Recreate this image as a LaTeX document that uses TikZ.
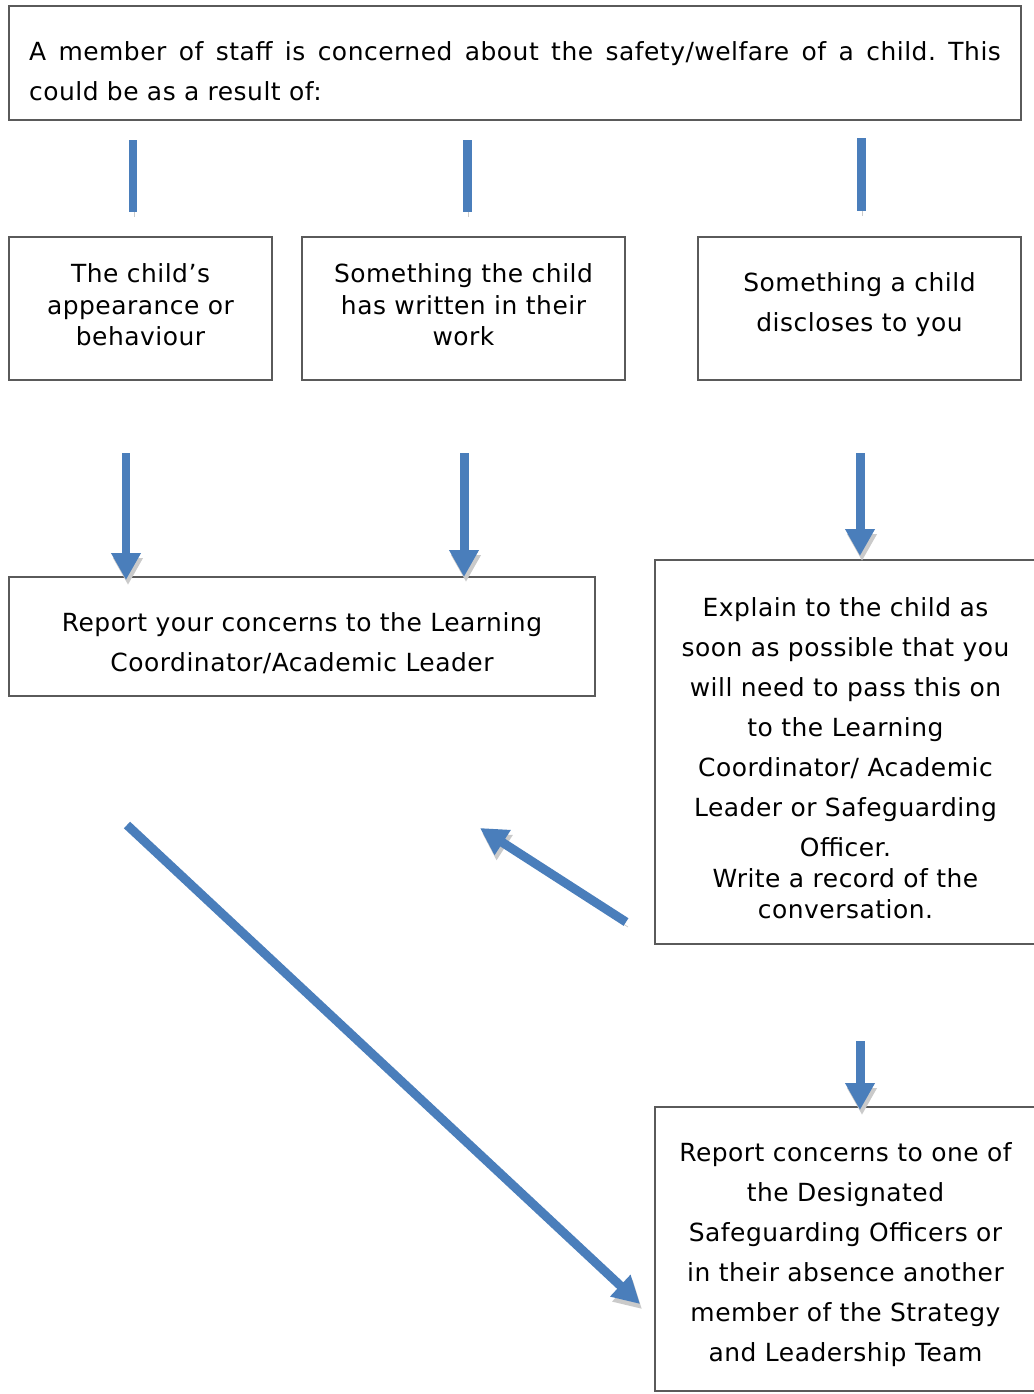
\documentclass[tikz,border=0pt]{standalone}
\usepackage{fontspec}
\setmainfont[LetterSpace=2]{DejaVu Sans}
\usetikzlibrary{arrows.meta,calc}

\definecolor{flowblue}{HTML}{4A7EBB}
\definecolor{shadowgray}{HTML}{CACACA}
\definecolor{boxline}{HTML}{5A5A5A}

\begin{document}
\begin{tikzpicture}[x=0.02cm,y=-0.02cm,
  frame/.style={draw=boxline,line width=0.75pt,inner sep=0pt},
  wide/.style={inner sep=0pt,align=center,font=\fontsize{14.2}{22.76}\selectfont},
  tight/.style={inner sep=0pt,align=center,font=\fontsize{14.2}{17.9}\selectfont},
  linkbar/.style={draw=flowblue,line width=0.18cm,
    preaction={draw=shadowgray,transform canvas={shift={(1,5)}}}},
  flowarrow/.style={draw=flowblue,line width=0.18cm,
    -{Triangle[width=0.56cm,length=0.54cm]},
    preaction={draw=shadowgray,transform canvas={shift={(2,5)}}}}]

\useasboundingbox (0,0) rectangle (1034,1394);
\fill[white] (0,0) rectangle (1034,1394);

% box frames
\node[frame,minimum width=20.24cm,minimum height=2.28cm] (topbox)     at (515,63)    {};
\node[frame,minimum width=5.26cm, minimum height=2.86cm] (appearbox)  at (140.5,308.5) {};
\node[frame,minimum width=6.46cm, minimum height=2.86cm] (writtenbox) at (463.5,308.5) {};
\node[frame,minimum width=6.46cm, minimum height=2.86cm] (disclbox)   at (859.5,308.5) {};
\node[frame,minimum width=11.72cm,minimum height=2.38cm] (reportbox)  at (302,636.5)   {};
\node[frame,minimum width=7.62cm, minimum height=7.68cm] (explainbox) at (845.5,752)   {};
\node[frame,minimum width=7.62cm, minimum height=5.68cm] (dsobox)     at (845.5,1249)  {};

% box texts
\node[wide,text width=19.44cm,align=left] (toptext) at (515,71)
  {{\spaceskip=0.3em plus 1fill\relax
    \hbox to 19.44cm{A member of staff is concerned about the safety/welfare of a child. This}}\\
   could be as a result of:};
\node[tight] (appeartext) at (140.5,305) {The child’s\\appearance or\\behaviour};
\node[tight] (writtentext) at (463.5,305) {Something the child\\has written in their\\work};
\node[wide] (discltext) at (859.5,304.5) {Something a child\\discloses to you};
\node[wide] (reporttext) at (302,643)
  {Report your concerns to the Learning\\Coordinator/Academic Leader};
\node[wide] (explaintext) at (845.5,758)
  {Explain to the child as\\soon as possible that you\\will need to pass this on\\to the Learning\\Coordinator/ Academic\\Leader or Safeguarding\\Officer.\\[-5.1pt]Write a record of the\\[-5.1pt]conversation.};
\node[wide] (dsotext) at (845.5,1255)
  {Report concerns to one of\\the Designated\\Safeguarding Officers or\\in their absence another\\member of the Strategy\\and Leadership Team};

% connector end points
\coordinate (l1a) at (133,140);  \coordinate (l1b) at (133,212);
\coordinate (l2a) at (467,140);  \coordinate (l2b) at (467,212);
\coordinate (l3a) at (861,138);  \coordinate (l3b) at (861,211);

\coordinate (a1a) at (126,453);  \coordinate (a1b) at (126,580);
\coordinate (a2a) at (464,453);  \coordinate (a2b) at (464,577);
\coordinate (a3a) at (860,453);  \coordinate (a3b) at (860,556);
\coordinate (a4a) at (860,1041); \coordinate (a4b) at (860,1110);

\coordinate (d1a) at (127,825);  \coordinate (d1b) at (640,1304);
\coordinate (d2a) at (626,922);  \coordinate (d2b) at (480,828);

% bars below the opening statement
\draw[linkbar] (l1a) -- (l1b);
\draw[linkbar] (l2a) -- (l2b);
\draw[linkbar] (l3a) -- (l3b);

% arrows
\draw[flowarrow] (a1a) -- (a1b);
\draw[flowarrow] (a2a) -- (a2b);
\draw[flowarrow] (a3a) -- (a3b);
\draw[flowarrow] (a4a) -- (a4b);
\draw[flowarrow] (d1a) -- (d1b);
\draw[flowarrow] (d2a) -- (d2b);
\end{tikzpicture}
\end{document}
